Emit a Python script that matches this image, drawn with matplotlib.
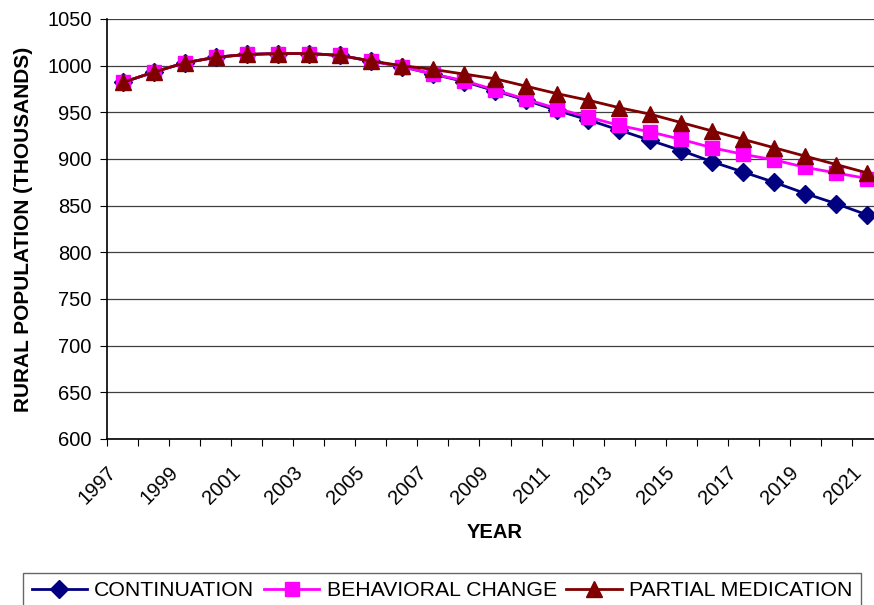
import matplotlib
matplotlib.use("Agg")
import matplotlib.pyplot as plt
import matplotlib.transforms as mtransforms
import numpy as np

plt.rcParams['font.family'] = ['Liberation Sans', 'DejaVu Sans']

# data (thousands)
years = list(range(1997, 2022))
continuation = [982, 993, 1003, 1009, 1012, 1013, 1013, 1011, 1005, 999, 991, 983, 973,
                963, 952, 942, 931, 920, 909, 897, 886, 875, 863, 852, 840]
behavioral = [982, 993, 1003, 1009, 1012, 1013, 1013, 1011, 1005, 999, 991, 984, 974,
              964, 954, 945, 936, 929, 921, 912, 905, 899, 891, 885, 879]
partial = [982, 993, 1003, 1009, 1012, 1013, 1013, 1011, 1005, 1000, 996, 991, 986,
           978, 970, 963, 955, 948, 939, 930, 921, 912, 903, 894, 885]

fig = plt.figure(figsize=(8.74, 6.05), dpi=100)
ax = fig.add_axes([107 / 874, 166 / 605, 776 / 874, 420 / 605])

x = np.arange(len(years))
ax.plot(x, continuation, color='#000080', lw=2, marker='D', ms=9, label='CONTINUATION')
ax.plot(x, behavioral, color='#FF00FF', lw=2, marker='s', ms=9.5, label='BEHAVIORAL CHANGE')
ax.plot(x, partial, color='#800000', lw=2, marker='^', ms=11.5, label='PARTIAL MEDICATION')

ax.set_xlim(-0.5, len(years) - 0.5)
ax.set_ylim(600, 1050)
ax.set_yticks(range(600, 1051, 50))
ax.yaxis.grid(True, color='#404040', lw=0.9)
ax.set_axisbelow(True)

# tick marks between categories, labels every second year (drawn as texts)
ax.set_xticks(np.arange(-0.5, len(years), 1))
ax.set_xticklabels([])
ax.tick_params(axis='x', length=5, direction='out', color='black')
ax.tick_params(axis='y', length=5, direction='out', labelsize=14.5, pad=6)

shift = mtransforms.ScaledTranslation(-0.16, -0.235, fig.dpi_scale_trans)
for xi, yr in zip(x[::2], years[::2]):
    ax.text(xi, 0, str(yr), transform=ax.get_xaxis_transform() + shift,
            rotation=45, ha='right', va='top', rotation_mode='anchor', fontsize=14.5)

for s in ['top', 'right']:
    ax.spines[s].set_visible(False)
ax.spines['left'].set_linewidth(1.2)
ax.spines['bottom'].set_linewidth(1.2)

ax.set_ylabel('RURAL POPULATION (THOUSANDS)', fontsize=15, fontweight='bold', labelpad=10)
fig.text(495 / 874, 1 - 533 / 605, 'YEAR', fontsize=14.5, fontweight='bold',
         ha='center', va='center')

leg = fig.legend(loc='upper center', bbox_to_anchor=(442 / 874, 1 - 573 / 605), ncol=3,
                 fontsize=15.3, frameon=True, fancybox=False, edgecolor='#404040',
                 handlelength=2.6, handletextpad=0.35, columnspacing=0.45,
                 borderpad=0.4, borderaxespad=0)
leg.get_frame().set_linewidth(1.0)

fig.savefig('out.png', dpi=100)
